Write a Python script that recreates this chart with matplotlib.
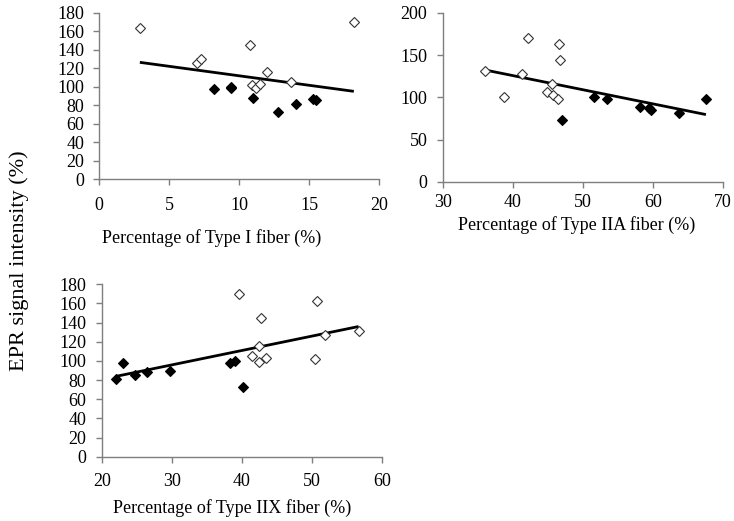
import numpy as np
import matplotlib
matplotlib.use("Agg")
import matplotlib.pyplot as plt

plt.rcParams['font.family'] = ['Liberation Serif', 'DejaVu Serif']

# Panel 1: Type I fiber
t1_open_x = [2.9, 18.2, 7.0, 7.3, 10.8, 12.0, 10.9, 11.2, 11.5, 13.7]
t1_open_y = [163, 170, 126, 130, 145, 116, 102, 98, 103, 105]
t1_fill_x = [8.2, 9.4, 9.4, 11.0, 12.8, 14.1, 15.3, 15.5]
t1_fill_y = [97, 98, 100, 88, 72, 81, 87, 85]

# Panel 2: Type IIA fiber
t2_open_x = [36.1, 38.8, 41.3, 42.2, 46.6, 46.7, 45.6, 44.9, 45.7, 46.4]
t2_open_y = [131, 101, 127, 170, 163, 144, 116, 106, 103, 98]
t2_fill_x = [47.0, 51.6, 53.4, 58.2, 59.5, 59.8, 63.7, 67.6]
t2_fill_y = [73, 100, 98, 89, 88, 85, 81, 98]

# Panel 3: Type IIX fiber
t3_open_x = [39.6, 50.7, 42.7, 51.9, 56.7, 42.4, 41.4, 42.4, 43.5, 50.4]
t3_open_y = [170, 163, 145, 127, 131, 116, 105, 99, 103, 102]
t3_fill_x = [22.1, 23.1, 24.7, 26.4, 29.7, 38.3, 39.0, 40.2]
t3_fill_y = [81, 98, 85, 88, 89, 98, 100, 73]

xlabels = ["Percentage of Type I fiber (%)",
           "Percentage of Type IIA fiber (%)",
           "Percentage of Type IIX fiber (%)"]
ylabel = "EPR signal intensity (%)"

W, H = 734, 521
fig = plt.figure(figsize=(W / 100, H / 100), dpi=100)

def px_axes(left, right, top, bottom):
    return fig.add_axes([left / W, 1 - bottom / H, (right - left) / W, (bottom - top) / H])

panels = [
    dict(rect=(99.3, 379.0, 12.6, 179.0), xlim=(0, 20), xt=np.arange(0, 21, 5),
         ylim=(0, 180), yt=np.arange(0, 181, 20),
         ox=t1_open_x, oy=t1_open_y, fx=t1_fill_x, fy=t1_fill_y, xl=xlabels[0],
         lab=(212, 238), xpad=9),
    dict(rect=(442.7, 722.7, 12.7, 182.0), xlim=(30, 70), xt=np.arange(30, 71, 10),
         ylim=(0, 200), yt=np.arange(0, 201, 50),
         ox=t2_open_x, oy=t2_open_y, fx=t2_fill_x, fy=t2_fill_y, xl=xlabels[1],
         lab=(577, 225), xpad=4.5),
    dict(rect=(101.7, 381.7, 284.3, 456.7), xlim=(20, 60), xt=np.arange(20, 61, 10),
         ylim=(0, 180), yt=np.arange(0, 181, 20),
         ox=t3_open_x, oy=t3_open_y, fx=t3_fill_x, fy=t3_fill_y, xl=xlabels[2],
         lab=(232, 508), xpad=8),
]

spine_col = '#7f7f7f'
for p in panels:
    ax = px_axes(*p['rect'])
    ax.set_xlim(*p['xlim'])
    ax.set_ylim(*p['ylim'])
    ax.set_xticks(p['xt'])
    ax.set_yticks(p['yt'])
    for s in ['top', 'right']:
        ax.spines[s].set_visible(False)
    for s in ['left', 'bottom']:
        ax.spines[s].set_color(spine_col)
        ax.spines[s].set_linewidth(1.0)
    ax.tick_params(direction='out', length=4, width=1.0, color=spine_col,
                   labelsize=13, labelcolor='black')
    ax.tick_params(axis='x', pad=p['xpad'])
    ax.tick_params(axis='y', pad=7)

    allx = np.array(p['ox'] + p['fx'])
    ally = np.array(p['oy'] + p['fy'])
    m, b = np.polyfit(allx, ally, 1)
    xs = np.array([allx.min(), allx.max()])
    ax.plot(xs, m * xs + b, color='black', lw=2.0, zorder=2, solid_capstyle='butt')

    ax.plot(p['ox'], p['oy'], linestyle='none', marker='D', ms=4.6,
            mfc='white', mec='#333333', mew=0.8, zorder=3, clip_on=False)
    ax.plot(p['fx'], p['fy'], linestyle='none', marker='D', ms=4.8,
            mfc='black', mec='black', mew=0.8, zorder=3, clip_on=False)
    lx, ly = p['lab']
    fig.text(lx / W, 1 - ly / H, p['xl'], ha='center', va='center', fontsize=13)

fig.text(19 / W, 1 - 261 / H, ylabel, rotation=90, ha='center', va='center', fontsize=16)

fig.savefig("out.png", dpi=100)
